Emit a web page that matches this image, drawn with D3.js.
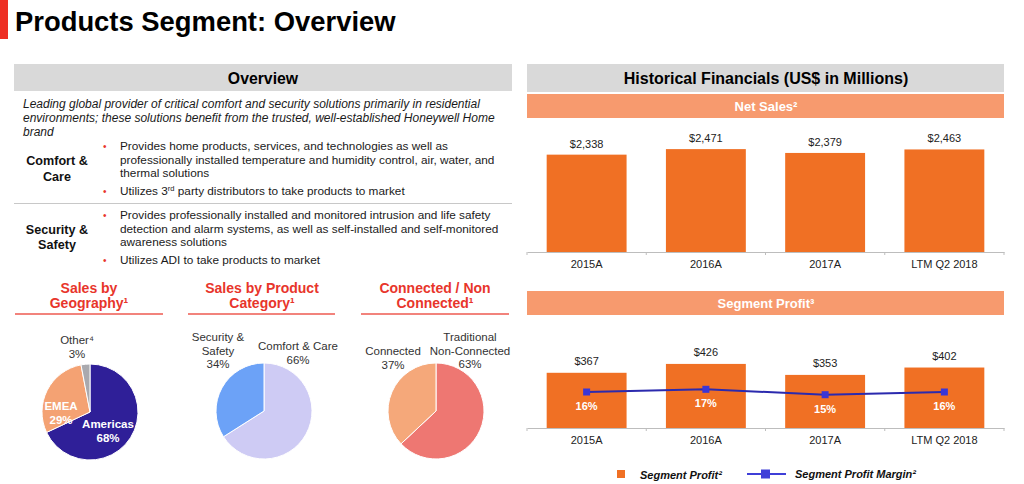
<!DOCTYPE html>
<html><head><meta charset="utf-8">
<script src="https://cdn.jsdelivr.net/npm/d3@7"></script>
<style>
html,body{margin:0;padding:0;background:#fff;}
svg{display:block;font-family:"Liberation Sans",Arial,sans-serif;}
</style></head>
<body>
<svg id="c" width="1024" height="484"></svg>
<script>
// ---------- data ----------
const categories = ["2015A", "2016A", "2017A", "LTM Q2 2018"];
const netSales = [2338, 2471, 2379, 2463];
const segmentProfit = [367, 426, 353, 402];
const profitMargin = [16, 17, 15, 16];

const geoLabels = ["Americas", "EMEA", "Other"];
const geoValues = [68, 29, 3];
const productLabels = ["Comfort & Care", "Security & Safety"];
const productValues = [66, 34];
const connLabels = ["Traditional Non-Connected", "Connected"];
const connValues = [63, 37];

const svg = d3.select("#c");
const orange = "#F07024", band = "#F79A6E", lineBlue = "#2B2AAE", markBlue = "#3A36D6";
const red = "#E8352B", txt = "#1a1a1a";

// ---------- title ----------
svg.append("rect").attr("x", 0).attr("y", 0).attr("width", 8).attr("height", 39).attr("fill", "#EE2F24");
svg.append("text").attr("x", 15).attr("y", 31).attr("font-size", 27.4).attr("font-weight", "bold")
  .attr("fill", "#000").text("Products Segment: Overview");

// ---------- left overview ----------
svg.append("rect").attr("x", 14).attr("y", 64).attr("width", 498).attr("height", 27).attr("fill", "#D9D9D9");
svg.append("text").attr("x", 263).attr("y", 83.5).attr("text-anchor", "middle").attr("font-size", 15.8)
  .attr("font-weight", "bold").attr("fill", "#000").text("Overview");

const intro = ["Leading global provider of critical comfort and security solutions primarily in residential",
  "environments; these solutions benefit from the trusted, well-established Honeywell Home",
  "brand"];
intro.forEach((l, i) => svg.append("text").attr("x", 23).attr("y", 108 + i * 13.8).attr("font-size", 12)
  .attr("font-style", "italic").attr("fill", txt).text(l));

function bulletLines(lines, y0, isNew) {
  lines.forEach((l, i) => {
    const y = y0[i];
    if (isNew[i]) svg.append("text").attr("x", 103).attr("y", y).attr("font-size", 10).attr("fill", red).text("•");
    const t = svg.append("text").attr("x", 120).attr("y", y).attr("font-size", 11.8).attr("fill", txt);
    if (Array.isArray(l)) {
      t.append("tspan").text(l[0]);
      t.append("tspan").attr("font-size", 7.5).attr("dy", -4).text(l[1]);
      t.append("tspan").attr("dy", 4).text(l[2]);
    } else t.text(l);
  });
}
bulletLines([
  "Provides home products, services, and technologies as well as",
  "professionally installed temperature and humidity control, air, water, and",
  "thermal solutions",
  ["Utilizes 3", "rd", " party distributors to take products to market"]
], [150, 163.5, 177, 194.5], [true, false, false, true]);
svg.append("line").attr("x1", 14).attr("x2", 512).attr("y1", 203.5).attr("y2", 203.5).attr("stroke", "#C8C8C8");
bulletLines([
  "Provides professionally installed and monitored intrusion and life safety",
  "detection and alarm systems, as well as self-installed and self-monitored",
  "awareness solutions",
  "Utilizes ADI to take products to market"
], [219, 232.5, 246, 264], [true, false, false, true]);

[["Comfort &", 57, 165], ["Care", 57, 181], ["Security &", 57, 234], ["Safety", 57, 249]].forEach(d =>
  svg.append("text").attr("x", d[1]).attr("y", d[2]).attr("text-anchor", "middle").attr("font-size", 12.6)
    .attr("font-weight", "bold").attr("fill", "#111").text(d[0]));

// ---------- pie section titles ----------
const pieTitles = [
  {cx: 89, x1: 15, x2: 163, lines: ["Sales by", "Geography¹"]},
  {cx: 262, x1: 188, x2: 335, lines: ["Sales by Product", "Category¹"]},
  {cx: 435, x1: 361, x2: 509, lines: ["Connected / Non", "Connected¹"]}
];
pieTitles.forEach(p => {
  p.lines.forEach((l, i) => svg.append("text").attr("x", p.cx).attr("y", 293 + i * 14.5)
    .attr("text-anchor", "middle").attr("font-size", 14).attr("font-weight", "bold").attr("fill", red).text(l));
  svg.append("line").attr("x1", p.x1).attr("x2", p.x2).attr("y1", 314).attr("y2", 314)
    .attr("stroke", "#EE5A50").attr("stroke-width", 1.5);
});

// ---------- pies ----------
const pieGen = d3.pie().sort(null).value(d => d.v);
const arcGen = d3.arc().innerRadius(0).outerRadius(48);
function drawPie(cx, cy, labels, values, colors) {
  const g = svg.append("g").attr("transform", `translate(${cx},${cy})`);
  const data = labels.map((l, i) => ({l, v: values[i]}));
  g.selectAll("path").data(pieGen(data)).join("path").attr("d", arcGen)
    .attr("fill", (d, i) => colors[i]).attr("stroke", "#fff").attr("stroke-width", 1);
  return g;
}
drawPie(90, 412, geoLabels, geoValues, ["#2F1F98", "#F4A273", "#A9A9AE"]);
drawPie(264, 411, productLabels, productValues, ["#CECBF4", "#6CA2F7"]);
drawPie(436, 411, connLabels, connValues, ["#EE7772", "#F5A87A"]);

function label(x, y, lines, opts = {}) {
  lines.forEach((l, i) => {
    const t = svg.append("text").attr("x", x).attr("y", y + i * 13.5).attr("text-anchor", "middle")
      .attr("font-size", 11.5).attr("fill", opts.fill || "#333").attr("font-weight", opts.bold ? "bold" : "normal");
    t.text(l);
  });
}
label(77, 344, ["Other⁴", geoValues[2] + "%"]);
label(61, 410, [geoLabels[1], geoValues[1] + "%"], {fill: "#fff", bold: true});
label(108, 428, [geoLabels[0], geoValues[0] + "%"], {fill: "#fff", bold: true});
label(218, 341, ["Security &", "Safety", productValues[1] + "%"]);
label(298, 350, [productLabels[0], productValues[0] + "%"]);
label(393, 355, [connLabels[1], connValues[1] + "%"]);
label(470, 341, ["Traditional", "Non-Connected", connValues[0] + "%"]);

// ---------- right: historical financials ----------
svg.append("rect").attr("x", 527).attr("y", 64).attr("width", 477).attr("height", 28).attr("fill", "#D9D9D9");
svg.append("text").attr("x", 766).attr("y", 84).attr("text-anchor", "middle").attr("font-size", 16)
  .attr("font-weight", "bold").attr("fill", "#000").text("Historical Financials (US$ in Millions)");

function bandHeader(y, title) {
  svg.append("rect").attr("x", 527).attr("y", y).attr("width", 477).attr("height", 24).attr("fill", band);
  svg.append("text").attr("x", 766).attr("y", y + 16.5).attr("text-anchor", "middle").attr("font-size", 13)
    .attr("font-weight", "bold").attr("fill", "#fff").text(title);
}
bandHeader(94, "Net Sales²");
bandHeader(291, "Segment Profit³");

const x = d3.scaleBand().domain(categories).range([527, 1004]).paddingInner(0.33).paddingOuter(0.165);
const fmt = v => "$" + d3.format(",")(v);

function axis(y0) {
  const g = svg.append("g").attr("transform", `translate(0,${y0})`);
  const ax = d3.axisBottom(x).tickSize(0).tickPadding(8);
  g.call(ax);
  g.select(".domain").attr("stroke", "#BDBDBD");
  g.selectAll(".tick text").attr("font-size", 11).attr("fill", "#222")
    .attr("font-family", "Liberation Sans, Arial, sans-serif");
  const step = x.step();
  const bounds = d3.range(categories.length + 1).map(i => 527 + i * step);
  g.selectAll(".bnd").data(bounds).join("line").attr("x1", d => d).attr("x2", d => d)
    .attr("y1", 0).attr("y2", 3).attr("stroke", "#BDBDBD");
}

// Net sales
const yNS = d3.scaleLinear().domain([0, 2930]).range([252, 130]);
svg.selectAll(".ns").data(netSales).join("rect")
  .attr("x", (d, i) => x(categories[i])).attr("width", x.bandwidth())
  .attr("y", d => yNS(d)).attr("height", d => yNS(0) - yNS(d)).attr("fill", orange);
svg.selectAll(".nsl").data(netSales).join("text")
  .attr("x", (d, i) => x(categories[i]) + x.bandwidth() / 2).attr("y", d => yNS(d) - 7)
  .attr("text-anchor", "middle").attr("font-size", 11).attr("fill", "#222").text(fmt);
axis(252);

// Segment profit
const yP = d3.scaleLinear().domain([0, 585]).range([428, 340]);
const yM = d3.scaleLinear().domain([10, 20]).range([408.2, 381.2]);
svg.selectAll(".sp").data(segmentProfit).join("rect")
  .attr("x", (d, i) => x(categories[i])).attr("width", x.bandwidth())
  .attr("y", d => yP(d)).attr("height", d => yP(0) - yP(d)).attr("fill", orange);
svg.selectAll(".spl").data(segmentProfit).join("text")
  .attr("x", (d, i) => x(categories[i]) + x.bandwidth() / 2).attr("y", d => yP(d) - 8)
  .attr("text-anchor", "middle").attr("font-size", 11).attr("fill", "#222").text(d => "$" + d);
axis(428);

const cx = (d, i) => x(categories[i]) + x.bandwidth() / 2;
svg.append("path").datum(profitMargin)
  .attr("d", d3.line().x(cx).y(d => yM(d)))
  .attr("fill", "none").attr("stroke", lineBlue).attr("stroke-width", 2);
svg.selectAll(".mk").data(profitMargin).join("rect")
  .attr("x", (d, i) => cx(d, i) - 3.5).attr("y", d => yM(d) - 3.5).attr("width", 7).attr("height", 7)
  .attr("fill", markBlue);
svg.selectAll(".ml").data(profitMargin).join("text")
  .attr("x", cx).attr("y", d => yM(d) + 18).attr("text-anchor", "middle").attr("font-size", 11)
  .attr("font-weight", "bold").attr("fill", "#fff").text(d => d + "%");

// Legend
svg.append("rect").attr("x", 617).attr("y", 470).attr("width", 8).attr("height", 8).attr("fill", orange);
svg.append("text").attr("x", 640).attr("y", 479).attr("font-size", 11).attr("font-weight", "bold")
  .attr("font-style", "italic").attr("fill", "#111").text("Segment Profit²");
svg.append("line").attr("x1", 747).attr("x2", 786).attr("y1", 474).attr("y2", 474)
  .attr("stroke", "#3F3FD8").attr("stroke-width", 2);
svg.append("rect").attr("x", 761).attr("y", 469.5).attr("width", 9).attr("height", 9).attr("fill", "#3F3FD8");
svg.append("text").attr("x", 795).attr("y", 478).attr("font-size", 11).attr("font-weight", "bold")
  .attr("font-style", "italic").attr("fill", "#111").text("Segment Profit Margin²");
</script>
</body></html>
